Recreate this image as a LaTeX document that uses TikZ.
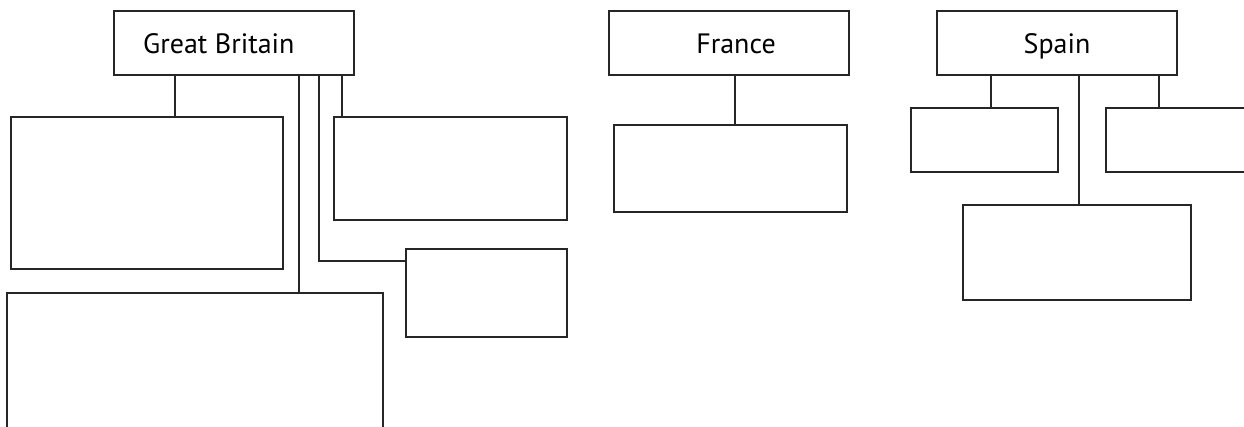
\documentclass[tikz,border=0pt]{standalone}
\usepackage{fontspec}
\setmainfont{PT Sans}
\usetikzlibrary{calc}
\begin{document}
\begin{tikzpicture}[x=1pt,y=-1pt,
  box/.style={draw=black!85,line width=1.3pt,inner sep=0pt,fill=white},
  conn/.style={draw=black!85,line width=1.3pt},
  lbl/.style={inner sep=0pt,font=\fontsize{28}{31}\selectfont}]
\useasboundingbox (0,0) rectangle (1244,426);
\clip (0,0) rectangle (1244,426);
% Great Britain
\node[box,minimum width=240,minimum height=64] (GB) at (234,43) {};
\node[lbl,anchor=base west] (GBt) at (143,53) {Great Britain};
\node[box,minimum width=272,minimum height=152] (A) at (147,193) {};
\node[box,minimum width=376,minimum height=152] (B) at (195,369) {};
\node[box,minimum width=233,minimum height=103] (C) at (450.5,168.5) {};
\node[box,minimum width=161,minimum height=88] (D) at (486.5,293) {};
\coordinate (xa) at (175,0);
\coordinate (xb) at (299,0);
\coordinate (xc) at (342,0);
\coordinate (xd) at (319,0);
\coordinate (dj) at (406,261);
\draw[conn] (GB.south -| xa) -- (A.north -| xa);
\draw[conn] (GB.south -| xb) -- (B.north -| xb);
\draw[conn] (GB.south -| xc) -- (C.north -| xc);
\draw[conn] (GB.south -| xd) |- (dj);
% France
\node[box,minimum width=240,minimum height=64] (FR) at (729,43) {};
\node[lbl,anchor=base] (FRt) at (736,53) {France};
\node[box,minimum width=233,minimum height=87] (FA) at (730.5,168.5) {};
\coordinate (xf) at (735,0);
\draw[conn] (FR.south -| xf) -- (FA.north -| xf);
% Spain
\node[box,minimum width=240,minimum height=64] (SP) at (1057,43) {};
\node[lbl,anchor=base] (SPt) at (1057,53) {Spain};
\node[box,minimum width=147,minimum height=64] (SL) at (984.5,140) {};
\node[box,minimum width=164,minimum height=64] (SR) at (1188,140) {};
\node[box,minimum width=228,minimum height=95] (SB) at (1077,252.5) {};
\coordinate (xs1) at (991,0);
\coordinate (xs2) at (1159,0);
\coordinate (xs3) at (1079,0);
\draw[conn] (SP.south -| xs1) -- (SL.north -| xs1);
\draw[conn] (SP.south -| xs2) -- (SR.north -| xs2);
\draw[conn] (SP.south -| xs3) -- (SB.north -| xs3);
\end{tikzpicture}
\end{document}
